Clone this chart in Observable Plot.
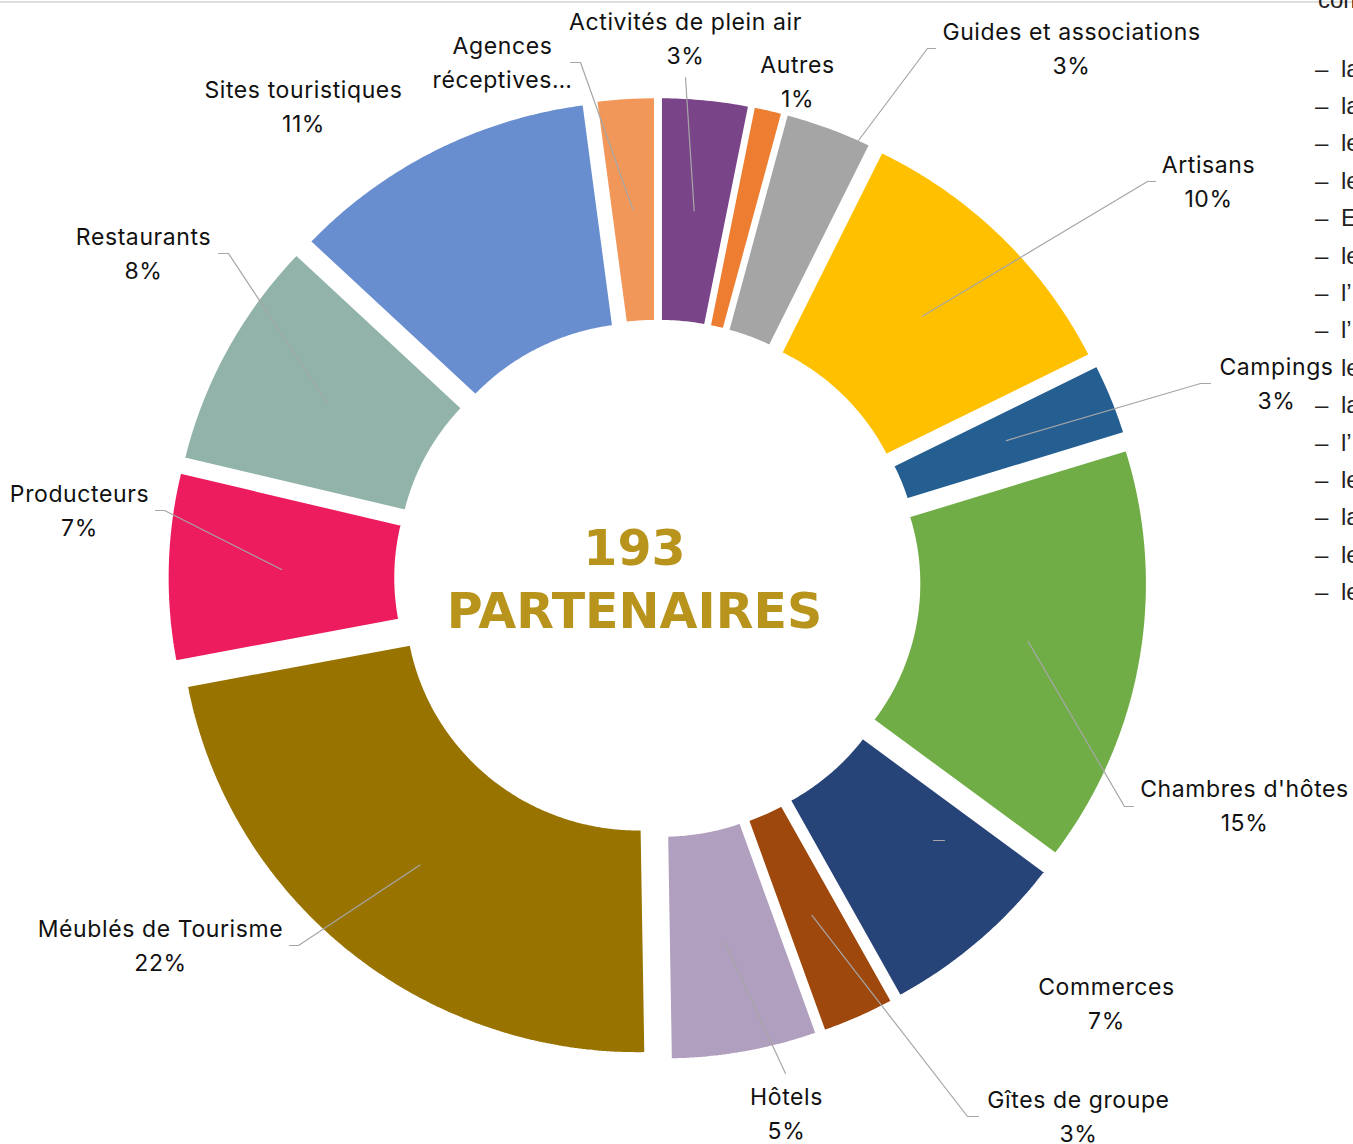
<!DOCTYPE html>
<html><head><meta charset="utf-8">
<script src="https://cdn.jsdelivr.net/npm/d3@7"></script>
<script src="https://cdn.jsdelivr.net/npm/@observablehq/plot@0.6"></script>
<style>
html,body{margin:0;padding:0;background:#fff;overflow:hidden;width:1353px;height:1144px;}
#wrap{position:relative;width:1353px;height:1144px;overflow:hidden;}
#topline{position:absolute;left:0;top:1px;width:1353px;height:2px;background:#dedede;}
.side{position:absolute;font-family:"Liberation Sans",Arial,sans-serif;font-size:24px;line-height:30px;color:#222;white-space:nowrap;}
#chart{position:absolute;left:0;top:0;}
#chart svg{background:transparent;}
</style></head><body>
<div id="wrap"><div id="topline"></div><div id="sidelist"></div><div id="chart"></div></div>
<script>
// ---- data ----
const categories = ["Activités de plein air","Autres","Guides et associations","Artisans","Campings","Chambres d'hôtes","Commerces","Gîtes de groupe","Hôtels","Méublés de Tourisme","Producteurs","Restaurants","Sites touristiques","Agences réceptives"];
const counts = [6, 2, 6, 20, 5, 29, 13, 5, 10, 43, 13, 16, 21, 4];
const colors = ["#7a4588","#ed7d31","#a5a5a5","#ffc000","#255e91","#70ad47","#264478","#9e480e","#b09fbe","#997300","#ed1c5e","#91b3aa","#698ed0","#f1975a"];
const labelTexts = ["Activités de plein air","Autres","Guides et associations","Artisans","Campings","Chambres d'hôtes","Commerces","Gîtes de groupe","Hôtels","Méublés de Tourisme","Producteurs","Restaurants","Sites touristiques","Agences\nréceptives…"];
const showPercent = [true,true,true,true,true,true,true,true,true,true,true,true,true,false];
const centerWord = "PARTENAIRES";
const sideHead = "comprenant";
const sideItems = ["la","la","le","le","E","le","l’","l’","le","la","l’","le","la","le","le"];
const sideDash = [true,true,true,true,true,true,true,true,false,true,true,true,true,true,true];

// ---- layout (pixels) ----
const W = 1353, H = 1144;
const CX = 657, CY = 578, RX = 460, RY = 452;   // pixels per unit radius
const INNER = 0.503, EXPLODE = 0.066;
const LABEL_DY = -4;
// label block centres
const labelPos = [[685,40],[797,83],[1071,50],[1208,183],[1276,385],[1244,807],[1106,1005],[1078,1118],[786,1115],[160,947],[79,512],[143,255],[303,108],[502,64]];
// leader lines: label-side points (px) ; "c" = ends at slice centroid
const leaders = [
  {i:13, pts:[[570,62],[580,62]], end:"c"},
  {i:0, pts:[[685,77]], end:"c"},
  {i:2, pts:[[935,48],[927,48],[858,140]], end:null},
  {i:3, pts:[[1155,181],[1147,181]], end:"c"},
  {i:4, pts:[[1210,383],[1200,383]], end:"c"},
  {i:5, pts:[[1133,806],[1124,806]], end:"c"},
  {i:6, pts:[[944,840],[933,840]], end:null},
  {i:7, pts:[[978,1116],[967,1116]], end:"c"},
  {i:8, pts:[[785,1073]], end:"c"},
  {i:9, pts:[[289,945],[298,945]], end:"c"},
  {i:10, pts:[[155,510],[164,510]], end:"c"},
  {i:11, pts:[[218,253],[228,253]], end:"c"}
];

const ux = px => (px - CX) / RX;
const uy = py => (CY - py) / RY;

const total = d3.sum(counts);
let cum = 0;
const slices = categories.map((name, i) => {
  const a0 = cum / total * 2 * Math.PI; cum += counts[i];
  const a1 = cum / total * 2 * Math.PI;
  return {name, count: counts[i], color: colors[i], a0, a1, mid: (a0 + a1) / 2};
});

function slicePts(s) {
  const n = Math.max(2, Math.ceil((s.a1 - s.a0) / (Math.PI / 360)));
  const ox = EXPLODE * Math.sin(s.mid), oy = EXPLODE * Math.cos(s.mid);
  const pts = [];
  for (let k = 0; k <= n; k++) { const a = s.a0 + (s.a1 - s.a0) * k / n; pts.push({x: ox + Math.sin(a), y: oy + Math.cos(a)}); }
  for (let k = n; k >= 0; k--) { const a = s.a0 + (s.a1 - s.a0) * k / n; pts.push({x: ox + INNER * Math.sin(a), y: oy + INNER * Math.cos(a)}); }
  return pts;
}
function centroid(s) {
  const r = (1 + INNER) / 2 + EXPLODE;
  return {x: r * Math.sin(s.mid), y: r * Math.cos(s.mid)};
}

const labelData = slices.map((s, i) => ({
  x: ux(labelPos[i][0]), y: uy(labelPos[i][1] + LABEL_DY),
  text: labelTexts[i] + (showPercent[i] ? "\n" + Math.round(100 * s.count / total) + "%" : "")
}));

const leaderMarks = leaders.map(l => {
  const pts = l.pts.map(p => ({x: ux(p[0]), y: uy(p[1])}));
  if (l.end === "c") pts.push(centroid(slices[l.i]));
  return Plot.line(pts, {x: "x", y: "y", stroke: "#a6a6a6", strokeWidth: 1.2});
});

const chart = Plot.plot({
  width: W, height: H, margin: 0,
  x: {domain: [ux(0), ux(W)], axis: null},
  y: {domain: [uy(H), uy(0)], axis: null},
  style: {background: "transparent", overflow: "visible"},
  marks: [
    ...slices.map(s => Plot.line(slicePts(s), {x: "x", y: "y", fill: s.color, stroke: "white", strokeWidth: 3, curve: "linear-closed", strokeLinejoin: "miter"})),
    ...leaderMarks,
    Plot.text(labelData, {x: "x", y: "y", text: "text", fontSize: 23, fontFamily: "Inter, 'Noto Sans', sans-serif", fill: "#111", lineHeight: 1.478, textAnchor: "middle", lineAnchor: "middle"}),
    Plot.text([{x: ux(634), y: uy(576), text: `${total}\n${centerWord}`}], {x: "x", y: "y", text: "text", fontSize: 49, fontWeight: "bold", fontFamily: "'DejaVu Sans', sans-serif", fill: "#b8941c", lineHeight: 1.29, textAnchor: "middle", lineAnchor: "middle"})
  ]
});
d3.select(chart).selectAll("g[aria-label='text']").filter((d, i) => i === 0).style("letter-spacing", "0.6px");
document.getElementById("chart").appendChild(chart);

// clipped text of the page to the right
const side = document.getElementById("sidelist");
const head = document.createElement("div");
head.className = "side"; head.style.left = "1318px"; head.style.top = "-15px"; head.textContent = sideHead;
side.appendChild(head);
sideItems.forEach((t, i) => {
  const top = 53.5 + 37.4 * i;
  if (sideDash[i]) { const d = document.createElement("div"); d.className = "side"; d.style.left = "1315px"; d.style.top = top + "px"; d.textContent = "–"; side.appendChild(d); }
  const e = document.createElement("div"); e.className = "side"; e.style.left = "1341px"; e.style.top = top + "px"; e.textContent = t; side.appendChild(e);
});
</script>
</body></html>
